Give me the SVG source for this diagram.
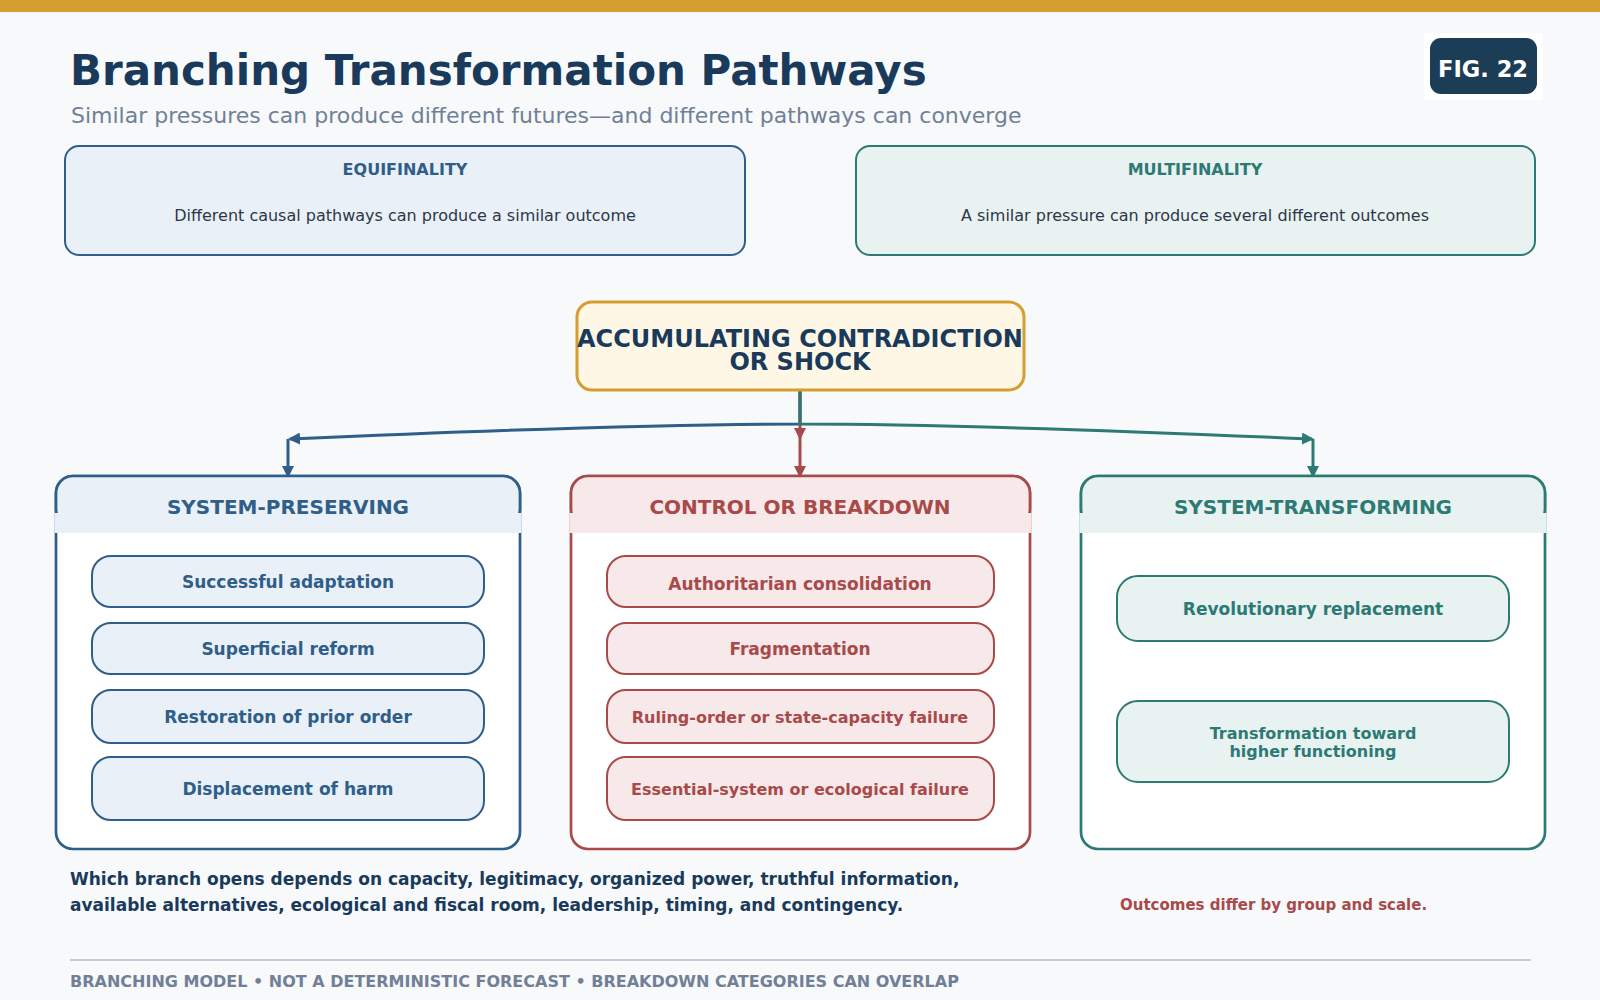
<svg xmlns="http://www.w3.org/2000/svg" width="1600" height="1000" viewBox="0 0 1600 1000">
<defs>
<style>
text{font-family:"DejaVu Sans","Liberation Sans",sans-serif}
.title{font-size:42px;font-weight:bold;fill:#1a3a5c}
.sub{font-size:22px;fill:#718096}
.boxh{font-size:16px;font-weight:bold;text-anchor:middle}
.boxt{font-size:16px;fill:#2d3748;text-anchor:middle}
.colh{font-size:20px;font-weight:bold;text-anchor:middle}
.item{font-size:17px;font-weight:bold;text-anchor:middle}
.sm{font-size:16px}
.blue{fill:#2f5e89}
.red{fill:#a84a4a}
.teal{fill:#2d7a75}
.conn{fill:none;stroke-width:3}
</style>
<marker id="ab" viewBox="0 0 12 12" markerWidth="12" markerHeight="12" refX="10" refY="6" orient="auto" markerUnits="userSpaceOnUse"><path d="M0,0 L12,6 L0,12 z" fill="#2f5e89"/></marker>
<marker id="ar" viewBox="0 0 12 12" markerWidth="12" markerHeight="12" refX="10" refY="6" orient="auto" markerUnits="userSpaceOnUse"><path d="M0,0 L12,6 L0,12 z" fill="#a84a4a"/></marker>
<marker id="at" viewBox="0 0 12 12" markerWidth="12" markerHeight="12" refX="10" refY="6" orient="auto" markerUnits="userSpaceOnUse"><path d="M0,0 L12,6 L0,12 z" fill="#2d7a75"/></marker>
</defs>
<rect x="0" y="0" width="1600" height="1000" fill="#f7f9fb"/>
<rect x="0" y="0" width="1600" height="12" fill="#d69e2e"/>

<g id="header">
<text class="title" x="70" y="85">Branching Transformation Pathways</text>
<text class="sub" x="71" y="123">Similar pressures can produce different futures—and different pathways can converge</text>
</g>
<g id="fig-badge">
<rect x="1424" y="33" width="119" height="67" fill="#ffffff"/>
<rect x="1430" y="38" width="107" height="56" rx="11" fill="#1b3d56"/>
<text x="1483" y="77" font-size="22.5" font-weight="bold" fill="#ffffff" text-anchor="middle">FIG. 22</text>
</g>

<g id="equifinality">
<rect x="65" y="146" width="680" height="109" rx="14" fill="#e9f0f7" stroke="#2f5e89" stroke-width="2"/>
<text class="boxh blue" x="405" y="175">EQUIFINALITY</text>
<text class="boxt" x="405" y="221">Different causal pathways can produce a similar outcome</text>
</g>
<g id="multifinality">
<rect x="856" y="146" width="679" height="109" rx="14" fill="#e8f2f0" stroke="#2d7a75" stroke-width="2"/>
<text class="boxh teal" x="1195" y="175">MULTIFINALITY</text>
<text class="boxt" x="1195" y="221">A similar pressure can produce several different outcomes</text>
</g>

<g id="connectors">
<path class="conn" stroke="#2f5e89" d="M800,390 V424 C650,424 450,432 290,439" marker-end="url(#ab)"/>
<path class="conn" stroke="#2f5e89" d="M288,439 V476" marker-end="url(#ab)"/>
<path class="conn" stroke="#a84a4a" d="M800,390 V438" marker-end="url(#ar)"/>
<path class="conn" stroke="#a84a4a" d="M800,438 V476" marker-end="url(#ar)"/>
<path class="conn" stroke="#2d7a75" d="M800,390 V424 C950,424 1150,432 1312,439" marker-end="url(#at)"/>
<path class="conn" stroke="#2d7a75" d="M1313,439 V476" marker-end="url(#at)"/>
</g>

<g id="shock">
<rect x="577" y="302" width="447" height="88" rx="15" fill="#fff7e6" stroke="#d69e2e" stroke-width="3"/>
<text x="800" y="347" font-size="24" font-weight="bold" fill="#1a3a5c" text-anchor="middle">ACCUMULATING CONTRADICTION</text>
<text x="800" y="370" font-size="24" font-weight="bold" fill="#1a3a5c" text-anchor="middle">OR SHOCK</text>
</g>

<g id="system-preserving">
<rect x="56" y="476" width="464" height="373" rx="17" fill="#ffffff" stroke="#2f5e89" stroke-width="2.7"/>
<rect x="56" y="476" width="464" height="50" rx="17" fill="#e9f0f7" stroke="#2f5e89" stroke-width="2.7"/>
<rect x="54.5" y="513" width="467" height="20" fill="#e9f0f7"/>
<text class="colh blue" x="288" y="514">SYSTEM-PRESERVING</text>
<g fill="#e9f0f7" stroke="#2f5e89" stroke-width="2">
<rect x="92" y="556" width="392" height="51" rx="19"/>
<rect x="92" y="623" width="392" height="51" rx="19"/>
<rect x="92" y="690" width="392" height="53" rx="19"/>
<rect x="92" y="757" width="392" height="63" rx="19"/>
</g>
<text class="item blue" x="288" y="588">Successful adaptation</text>
<text class="item blue" x="288" y="655">Superficial reform</text>
<text class="item blue" x="288" y="723">Restoration of prior order</text>
<text class="item blue" x="288" y="795">Displacement of harm</text>
</g>

<g id="control-breakdown">
<rect x="571" y="476" width="459" height="373" rx="17" fill="#ffffff" stroke="#a84a4a" stroke-width="2.7"/>
<rect x="571" y="476" width="459" height="50" rx="17" fill="#f7e8e9" stroke="#a84a4a" stroke-width="2.7"/>
<rect x="569.5" y="513" width="462" height="20" fill="#f7e8e9"/>
<text class="colh red" x="800" y="514">CONTROL OR BREAKDOWN</text>
<g fill="#f7e8e9" stroke="#a84a4a" stroke-width="2">
<rect x="607" y="556" width="387" height="51" rx="19"/>
<rect x="607" y="623" width="387" height="51" rx="19"/>
<rect x="607" y="690" width="387" height="53" rx="19"/>
<rect x="607" y="757" width="387" height="63" rx="19"/>
</g>
<text class="item red" x="800" y="590">Authoritarian consolidation</text>
<text class="item red" x="800" y="655">Fragmentation</text>
<text class="item red sm" x="800" y="723">Ruling-order or state-capacity failure</text>
<text class="item red sm" x="800" y="795">Essential-system or ecological failure</text>
</g>

<g id="system-transforming">
<rect x="1081" y="476" width="464" height="373" rx="17" fill="#ffffff" stroke="#2d7a75" stroke-width="2.7"/>
<rect x="1081" y="476" width="464" height="50" rx="17" fill="#e8f2f0" stroke="#2d7a75" stroke-width="2.7"/>
<rect x="1079.5" y="513" width="467" height="20" fill="#e8f2f0"/>
<text class="colh teal" x="1313" y="514">SYSTEM-TRANSFORMING</text>
<g fill="#e8f2f0" stroke="#2d7a75" stroke-width="2">
<rect x="1117" y="576" width="392" height="65" rx="21"/>
<rect x="1117" y="701" width="392" height="81" rx="21"/>
</g>
<text class="item teal" x="1313" y="615">Revolutionary replacement</text>
<text class="item teal sm" x="1313" y="739">Transformation toward</text>
<text class="item teal sm" x="1313" y="757">higher functioning</text>
</g>

<g id="notes">
<text x="70" y="885" font-size="17" font-weight="bold" fill="#1a3a5c">Which branch opens depends on capacity, legitimacy, organized power, truthful information,</text>
<text x="70" y="911" font-size="17" font-weight="bold" fill="#1a3a5c">available alternatives, ecological and fiscal room, leadership, timing, and contingency.</text>
<text x="1120" y="910" font-size="15" font-weight="bold" fill="#a84a4a">Outcomes differ by group and scale.</text>
</g>

<g id="footer">
<line x1="70" y1="960" x2="1531" y2="960" stroke="#c2ccd6" stroke-width="2"/>
<text x="70" y="987" font-size="16" font-weight="bold" fill="#718096">BRANCHING MODEL • NOT A DETERMINISTIC FORECAST • BREAKDOWN CATEGORIES CAN OVERLAP</text>
</g>
</svg>
